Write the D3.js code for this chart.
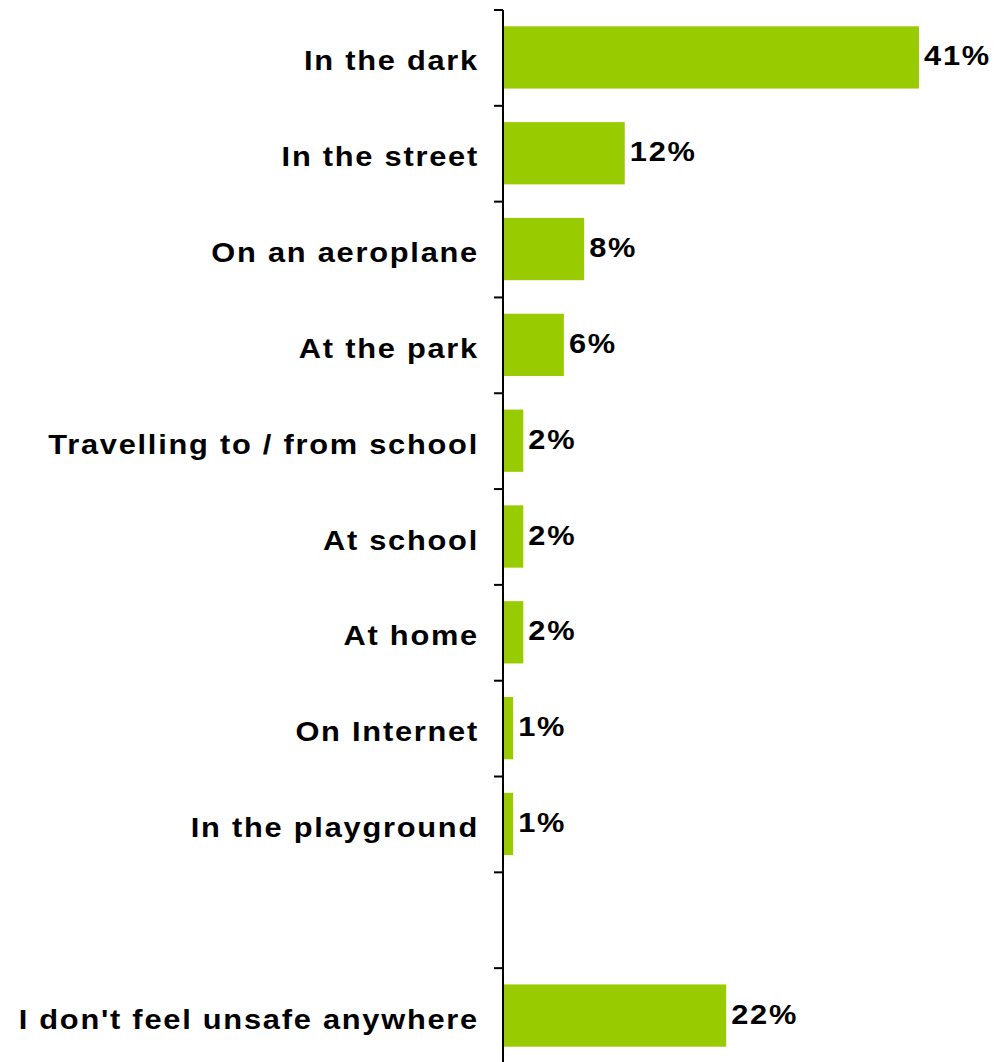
<!DOCTYPE html>
<html><head><meta charset="utf-8">
<script src="https://cdn.jsdelivr.net/npm/d3@7"></script>
<style>body{margin:0;background:#fff}svg{display:block}</style>
</head><body>
<script>
const categories = ["In the dark","In the street","On an aeroplane","At the park","Travelling to / from school","At school","At home","On Internet","In the playground","","I don't feel unsafe anywhere"];
const values = [41,12,8,6,2,2,2,1,1,null,22];
const valueLabels = ["41%","12%","8%","6%","2%","2%","2%","1%","1%","","22%"];

const W=997,H=1062;
const svg=d3.select("body").append("svg").attr("width",W).attr("height",H);
const x0=503;
const x=d3.scaleLinear().domain([0,41]).range([x0,919]);
const y=d3.scaleBand().domain(d3.range(categories.length)).range([10,1063]).paddingInner(0.35).paddingOuter(0.17);
const font="'Liberation Sans', Arial, sans-serif";
const sx=1.1;

// bars
svg.selectAll("rect.bar").data(values.map((v,i)=>({v,i})).filter(d=>d.v!=null)).enter()
  .append("rect").attr("x",x0+1).attr("y",d=>y(d.i)).attr("width",d=>x(d.v)-x0-1).attr("height",y.bandwidth())
  .attr("fill","#99CC00");

// axis line and ticks
const step=y.step();
svg.append("line").attr("x1",x0).attr("x2",x0).attr("y1",10).attr("y2",H).attr("stroke","#000").attr("stroke-width",2);
svg.selectAll("line.tick").data(d3.range(categories.length+1)).enter().append("line")
  .attr("x1",x0-9).attr("x2",x0).attr("y1",i=>10+i*step).attr("y2",i=>10+i*step)
  .attr("stroke","#000").attr("stroke-width",2);

// category labels
svg.selectAll("text.cat").data(categories).enter().append("text")
  .attr("transform",(d,i)=>`translate(479,${y(i)+y.bandwidth()/2+13}) scale(${sx},1)`)
  .attr("text-anchor","end").attr("font-family",font).attr("font-weight","bold")
  .attr("font-size",28).attr("letter-spacing","1.6px").attr("fill","#000").text(d=>d);

// value labels
svg.selectAll("text.val").data(values.map((v,i)=>({v,i,l:valueLabels[i]})).filter(d=>d.v!=null)).enter().append("text")
  .attr("transform",d=>`translate(${x(d.v)+5},${y(d.i)+y.bandwidth()/2+8}) scale(${sx},1)`)
  .attr("font-family",font).attr("font-weight","bold").attr("font-size",28).attr("letter-spacing","1.6px").attr("fill","#000").text(d=>d.l);
</script>
</body></html>
